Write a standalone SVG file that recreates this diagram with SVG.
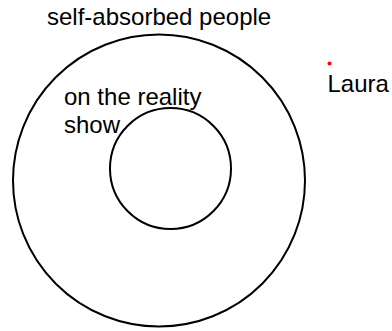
<svg xmlns="http://www.w3.org/2000/svg" width="392" height="331" viewBox="0 0 392 331">
<style>
.ring{fill:none;stroke:#000;stroke-width:2}
.lbl{font-family:"Liberation Sans",Arial,sans-serif;font-size:24px;fill:#000}
</style>
<rect width="392" height="331" fill="#fff"/>
<g id="self-absorbed">
<circle class="ring" cx="159" cy="180.5" r="146"/>
<text class="lbl" x="47" y="25">self-absorbed people</text>
</g>
<g id="reality-show">
<circle class="ring" cx="170.5" cy="168.5" r="60.5"/>
<text class="lbl" x="64" y="105">on the reality</text>
<text class="lbl" x="64" y="133">show</text>
</g>
<g id="laura">
<circle cx="329.5" cy="63.5" r="2" fill="#f00"/>
<text class="lbl" x="327.5" y="92">Laura</text>
</g>
<g id="connectors"/>
</svg>
